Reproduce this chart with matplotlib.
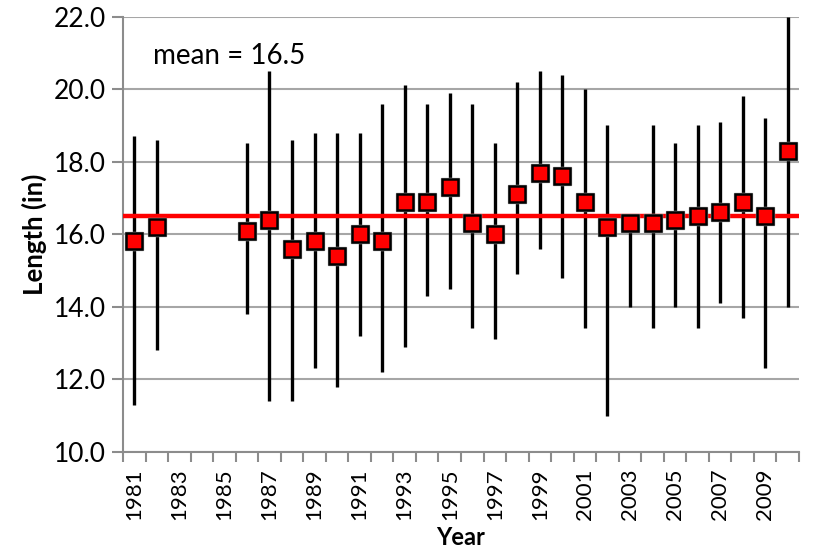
import matplotlib.pyplot as plt
import numpy as np

plt.rcParams["font.family"] = ["Lato", "DejaVu Sans"]

# yearly length summary (in); None = no sample that year
years = list(range(1981, 2011))
mean_len = [15.8, 16.2, None, None, None, 16.1, 16.4, 15.6, 15.8, 15.4,
            16.0, 15.8, 16.9, 16.9, 17.3, 16.3, 16.0, 17.1, 17.7, 17.6,
            16.9, 16.2, 16.3, 16.3, 16.4, 16.5, 16.6, 16.9, 16.5, 18.3]
max_len = [18.7, 18.6, None, None, None, 18.5, 20.5, 18.6, 18.8, 18.8,
           18.8, 19.6, 20.1, 19.6, 19.9, 19.6, 18.5, 20.2, 20.5, 20.4,
           20.0, 19.0, 16.3, 19.0, 18.5, 19.0, 19.1, 19.8, 19.2, 22.0]
min_len = [11.3, 12.8, None, None, None, 13.8, 11.4, 11.4, 12.3, 11.8,
           13.2, 12.2, 12.9, 14.3, 14.5, 13.4, 13.1, 14.9, 15.6, 14.8,
           13.4, 11.0, 14.0, 13.4, 14.0, 13.4, 14.1, 13.7, 12.3, 14.0]
overall_mean = 16.5

fig = plt.figure(figsize=(8.18, 5.51), dpi=100)
ax = fig.add_axes([0.1504, 0.180, 0.8264, 0.790])

pos = np.arange(len(years))
for i, (m, lo, hi) in enumerate(zip(mean_len, min_len, max_len)):
    if m is None:
        continue
    ax.plot([i, i], [lo, hi], color="black", lw=2.4, solid_capstyle="butt", zorder=2)

ax.axhline(overall_mean, color="#FF0000", lw=3.2, zorder=3)

xs = [i for i, m in zip(pos, mean_len) if m is not None]
ys = [m for m in mean_len if m is not None]
# soft shadow behind the markers
ax.plot(xs, ys, ls="none", marker="s", ms=13.5, mfc="none", mec="#B0B0B0",
        mew=1.0, zorder=3.5)
ax.plot(xs, ys, ls="none", marker="s", ms=11.5, mfc="#FF0000", mec="black",
        mew=1.8, zorder=4)

ax.set_xlim(-0.5, len(years) - 0.5)
ax.set_ylim(10, 22)
ax.set_yticks(np.arange(10, 22.1, 2))
ax.set_yticklabels([f"{v:.1f}" for v in np.arange(10, 22.1, 2)], fontsize=19)
ax.yaxis.grid(True, color="#A6A6A6", lw=1.5)
ax.set_axisbelow(True)

ax.set_xticks(pos[::2])
ax.set_xticklabels([str(y) for y in years[::2]], rotation=90, fontsize=16)
ax.set_xticks(np.arange(-0.5, len(years)), minor=True)
ax.tick_params(axis="x", which="major", length=0, pad=12)
ax.tick_params(axis="x", which="minor", length=7, width=1.5, color="#8C8C8C")
ax.tick_params(axis="y", length=8, width=1.5, color="#8C8C8C", pad=4)

for side in ["top", "right"]:
    ax.spines[side].set_visible(False)
for side in ["left", "bottom"]:
    ax.spines[side].set_color("#8C8C8C")
    ax.spines[side].set_linewidth(1.5)

ax.set_ylabel("Length (in)", fontsize=18.5, fontweight="bold", labelpad=5)
ax.set_xlabel("Year", fontsize=17, fontweight="bold", labelpad=4)

ax.text(0.045, 0.91, f"mean = {overall_mean}", transform=ax.transAxes,
        fontsize=20, va="center", ha="left")

fig.savefig("out.png", dpi=100)
